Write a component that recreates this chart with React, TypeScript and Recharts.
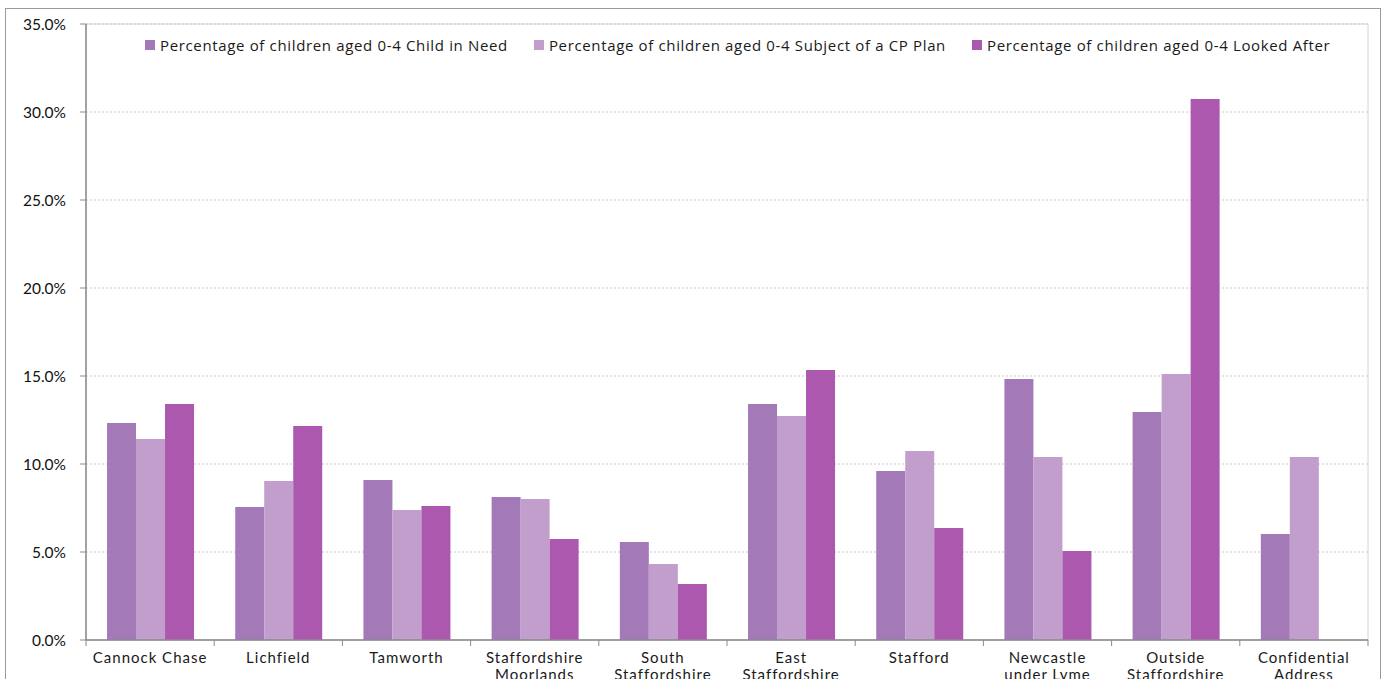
import React from 'react';
import { BarChart, Bar, XAxis, YAxis, CartesianGrid, ReferenceArea } from 'recharts';

// Districts (line breaks mark where the axis label wraps)
const categories = [
  'Cannock Chase',
  'Lichfield',
  'Tamworth',
  'Staffordshire\nMoorlands',
  'South\nStaffordshire',
  'East\nStaffordshire',
  'Stafford',
  'Newcastle\nunder Lyme',
  'Outside\nStaffordshire',
  'Confidential\nAddress',
];

// Percentages per district
const childInNeed = [12.33, 7.56, 9.09, 8.13, 5.57, 13.41, 9.6, 14.83, 12.95, 6.02];
const cpPlan = [11.42, 9.03, 7.39, 8.01, 4.32, 12.73, 10.74, 10.4, 15.11, 10.4];
const lookedAfter = [13.41, 12.16, 7.61, 5.74, 3.18, 15.34, 6.36, 5.06, 30.74, null];

const yTicks = [0, 5, 10, 15, 20, 25, 30, 35];

const seriesKeys = ['cin', 'cp', 'la'];
const seriesNames = [
  'Percentage of children aged 0-4 Child in Need',
  'Percentage of children aged 0-4 Subject of a CP Plan',
  'Percentage of children aged 0-4 Looked After',
];
const seriesColors = ['#A479B8', '#C19ECC', '#AD58AF'];

const data = categories.map((name, i) => ({
  name,
  cin: childInNeed[i],
  cp: cpPlan[i],
  la: lookedAfter[i],
}));

const CHART_W = 1386;
const CHART_H = 720;
const MARGIN = { top: 24, right: 18, bottom: 30, left: 0 };
const Y_AXIS_W = 86;
const X_AXIS_H = 50;
const PLOT_W = CHART_W - MARGIN.left - MARGIN.right - Y_AXIS_W;

const AXIS_COLOR = '#8a8a8a';
const LABEL_FONT = 'Lato, "Open Sans", sans-serif';
const LEGEND_FONT = '"Open Sans", "Noto Sans", sans-serif';

const CategoryTick = (props: any) => {
  const { x, y, payload, index } = props;
  const count = props.visibleTicksCount || categories.length;
  const band = PLOT_W / count;
  const lines = String(payload.value).split('\n');
  return (
    <g>
      <line x1={x - band / 2} x2={x - band / 2} y1={y} y2={y + 6} stroke={AXIS_COLOR} strokeWidth={1} />
      {index === count - 1 && (
        <line x1={x + band / 2} x2={x + band / 2} y1={y} y2={y + 6} stroke={AXIS_COLOR} strokeWidth={1} />
      )}
      <text
        x={x}
        y={y + 23}
        textAnchor="middle"
        fill="#1a1a1a"
        fontSize={15}
        letterSpacing={1}
        fontFamily={LABEL_FONT}
      >
        {lines.map((line, i) => (
          <tspan key={i} x={x} dy={i === 0 ? 0 : 17}>
            {line}
          </tspan>
        ))}
      </text>
    </g>
  );
};

const ChartLegend = () => (
  <div
    style={{
      position: 'absolute',
      left: 145,
      top: 36,
      display: 'flex',
      fontFamily: LEGEND_FONT,
      fontSize: 15,
      letterSpacing: 0.65,
      lineHeight: '18px',
      color: '#1a1a1a',
      whiteSpace: 'nowrap',
    }}
  >
    {seriesNames.map((name, i) => (
      <div key={name} style={{ display: 'flex', alignItems: 'center', marginRight: i < 2 ? 26 : 0 }}>
        <span style={{ width: 10, height: 10, background: seriesColors[i], marginRight: 5, display: 'inline-block' }} />
        <span>{name}</span>
      </div>
    ))}
  </div>
);

export default function App() {
  return (
    <div
      style={{
        position: 'absolute',
        left: 0,
        top: 0,
        width: 1386,
        height: 679,
        overflow: 'hidden',
        background: '#fff',
      }}
    >
      <div
        style={{
          position: 'absolute',
          left: 5,
          top: 8,
          width: 1376,
          height: 700,
          border: '1px solid #9a9a9a',
          boxSizing: 'border-box',
        }}
      />
      <div style={{ position: 'absolute', left: 0, top: 0 }}>
        <BarChart
          width={CHART_W}
          height={CHART_H}
          data={data}
          margin={MARGIN}
          barCategoryGap="16.4%"
          barGap={0}
        >
          <CartesianGrid vertical={false} stroke="#c8c8c8" strokeDasharray="2 2" />
          <ReferenceArea y1={0} y2={35} fill="none" stroke="#d4d4d4" strokeWidth={1} ifOverflow="visible" />
          <XAxis
            dataKey="name"
            height={X_AXIS_H}
            interval={0}
            tickLine={false}
            tickSize={0}
            tickMargin={0}
            axisLine={{ stroke: AXIS_COLOR, strokeWidth: 1.5 }}
            tick={<CategoryTick />}
          />
          <YAxis
            width={Y_AXIS_W}
            domain={[0, 35]}
            ticks={yTicks}
            interval={0}
            tickFormatter={(v: number) => `${v.toFixed(1)}%`}
            axisLine={{ stroke: AXIS_COLOR, strokeWidth: 1.5 }}
            tickLine={{ stroke: AXIS_COLOR }}
            tickSize={6}
            tickMargin={14}
            tick={{ fill: '#111', fontSize: 15.5, fontFamily: LABEL_FONT }}
          />
          {seriesKeys.map((key, i) => (
            <Bar
              key={key}
              dataKey={key}
              name={seriesNames[i]}
              fill={seriesColors[i]}
              isAnimationActive={false}
            />
          ))}
        </BarChart>
      </div>
      <ChartLegend />
    </div>
  );
}
